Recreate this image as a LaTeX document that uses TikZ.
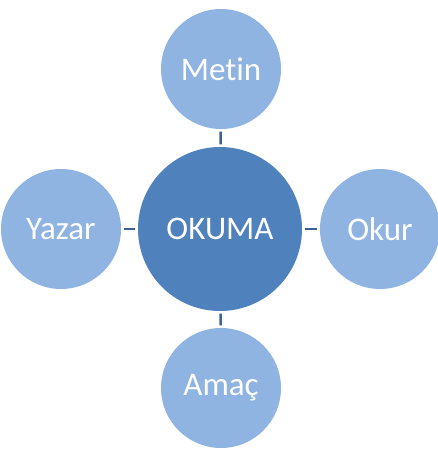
\documentclass[tikz,border=0pt]{standalone}
\usepackage{fontspec}
\setmainfont{Carlito}[Ligatures=NoCommon]
\definecolor{merkez}{RGB}{79,129,189}
\definecolor{dis}{RGB}{143,180,226}
\definecolor{baglanti}{RGB}{62,98,150}
\begin{document}
\begin{tikzpicture}[x=1pt, y=-1pt, every node/.style={circle, inner sep=0pt, text=white, font=\fontsize{33}{38}\selectfont}]
            \useasboundingbox (0,0) rectangle (438,469);
            \node[fill=merkez, minimum size=164pt] (okuma) at (220, 229) {OKUMA}; % Merkez
            \node[fill=dis, minimum size=120pt] (metin) at (221, 69) {Metin};
            \node[fill=dis, minimum size=120pt] (yazar) at (61, 229) {Yazar};
            \node[fill=dis, minimum size=120pt] (okur) at (380, 229) {Okur};
            \node[fill=dis, minimum size=120pt] (amac) at (221, 388) {Amaç};

            \draw[baglanti, line width=2.5pt, shorten <=2.5pt, shorten >=2.5pt] (okuma) -- (metin);
            \draw[baglanti, line width=2.5pt, shorten <=2.5pt, shorten >=2.5pt] (okuma) -- (yazar);
            \draw[baglanti, line width=2.5pt, shorten <=2.5pt, shorten >=2.5pt] (okuma) -- (okur);
            \draw[baglanti, line width=2.5pt, shorten <=2.5pt, shorten >=2.5pt] (okuma) -- (amac);
        \end{tikzpicture}
\end{document}
